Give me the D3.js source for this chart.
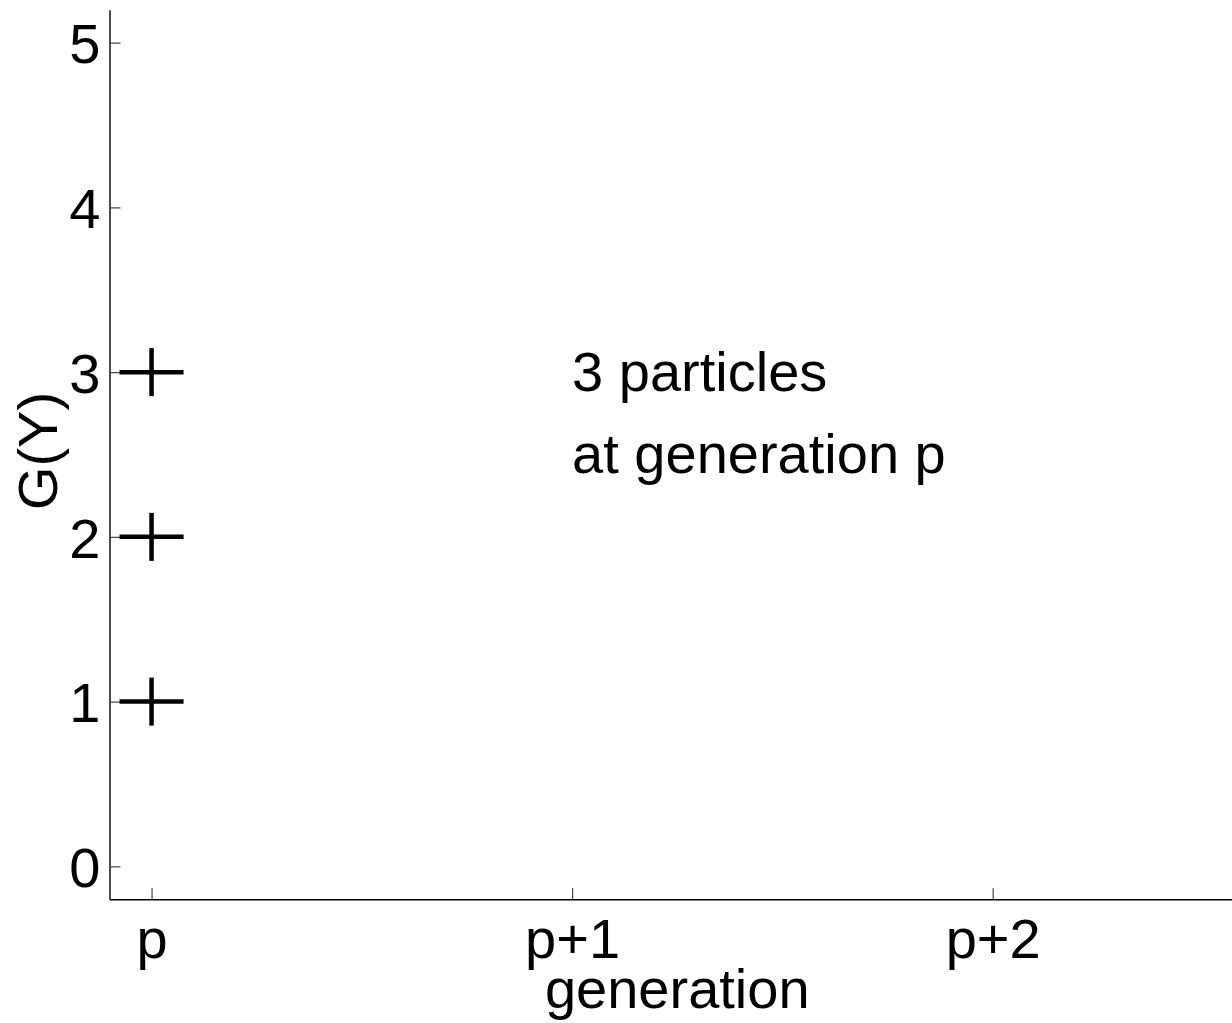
<!DOCTYPE html>
<meta charset="utf-8">
<style>
  body { margin: 0; background: #fff; }
  text { font-family: "Liberation Sans", Arial, sans-serif; fill: #000; }
</style>
<body>
<svg width="1232" height="1023"></svg>

<script src="https://cdn.jsdelivr.net/npm/d3@7"></script>
<script>

// data
var particleGen = [0, 0, 0];
var particleG = [1, 2, 3];
var xTickVals = [0, 1, 2];
var xTickLabels = ["p", "p+1", "p+2"];
var yTickVals = [0, 1, 2, 3, 4, 5];
var noteLines = ["3 particles", "at generation p"];
var notePos = [1, 2.75];

var svg = d3.select("svg"),
    fontSize = 56;

// scales (axes box runs off the right edge, as in the picture)
var x = d3.scaleLinear().domain([-0.1, 2.6]).range([109.5, 1245]),
    y = d3.scaleLinear().domain([-0.2, 5.2]).range([899.3, 9.7]);

// ticks point inward, matlab style
var xAxis = d3.axisBottom(x)
    .tickValues(xTickVals)
    .tickSize(-11)
    .tickSizeOuter(0)
    .tickPadding(19)
    .tickFormat(function(d, i) { return xTickLabels[i]; });

var yAxis = d3.axisLeft(y)
    .tickValues(yTickVals)
    .tickSize(-11)
    .tickSizeOuter(0)
    .tickPadding(9)
    .tickFormat(d3.format("d"));

var gx = svg.append("g")
    .attr("transform", "translate(0," + y.range()[0] + ")")
    .call(xAxis);

var gy = svg.append("g")
    .attr("transform", "translate(" + x.range()[0] + ",0)")
    .call(yAxis);

[gx, gy].forEach(function(g) {
  g.select(".domain").attr("stroke", "#000").attr("stroke-width", 1.4);
  g.selectAll(".tick line").attr("stroke", "#444").attr("stroke-width", 1.2);
  g.selectAll(".tick text")
      .attr("font-family", "Liberation Sans, Arial, sans-serif")
      .attr("font-size", fontSize)
      .attr("fill", "#000");
});
gx.selectAll(".tick text").attr("dy", "0.71em");
gy.selectAll(".tick text").attr("dy", "0.36em");

// axis titles
svg.append("text")
    .attr("x", x(1.25))
    .attr("y", 1008)
    .attr("text-anchor", "middle")
    .attr("font-size", fontSize)
    .text("generation");

svg.append("text")
    .attr("transform", "translate(57," + 451 + ") rotate(-90)")
    .attr("text-anchor", "middle")
    .attr("font-size", fontSize)
    .text("G(Y)");

// plus markers
var pts = particleGen.map(function(g, i) { return {g: g, v: particleG[i]}; });
var hw = 32, hh = 24;

var marks = svg.append("g").selectAll("g")
    .data(pts)
  .enter().append("g")
    .attr("transform", function(d) { return "translate(" + x(d.g) + "," + y(d.v) + ")"; });

marks.append("line")
    .attr("x1", -hw).attr("x2", hw)
    .attr("y1", 0).attr("y2", 0);
marks.append("line")
    .attr("x1", 0).attr("x2", 0)
    .attr("y1", -hh).attr("y2", hh);
marks.selectAll("line")
    .attr("stroke", "#000")
    .attr("stroke-width", 4.5);

// annotation
var cy = y(notePos[1]);
svg.append("g").selectAll("text")
    .data(noteLines)
  .enter().append("text")
    .attr("x", x(notePos[0]))
    .attr("y", function(d, i) { return cy - 22 + i * 82; })
    .attr("font-size", fontSize)
    .text(function(d) { return d; });

</script>
</body>
